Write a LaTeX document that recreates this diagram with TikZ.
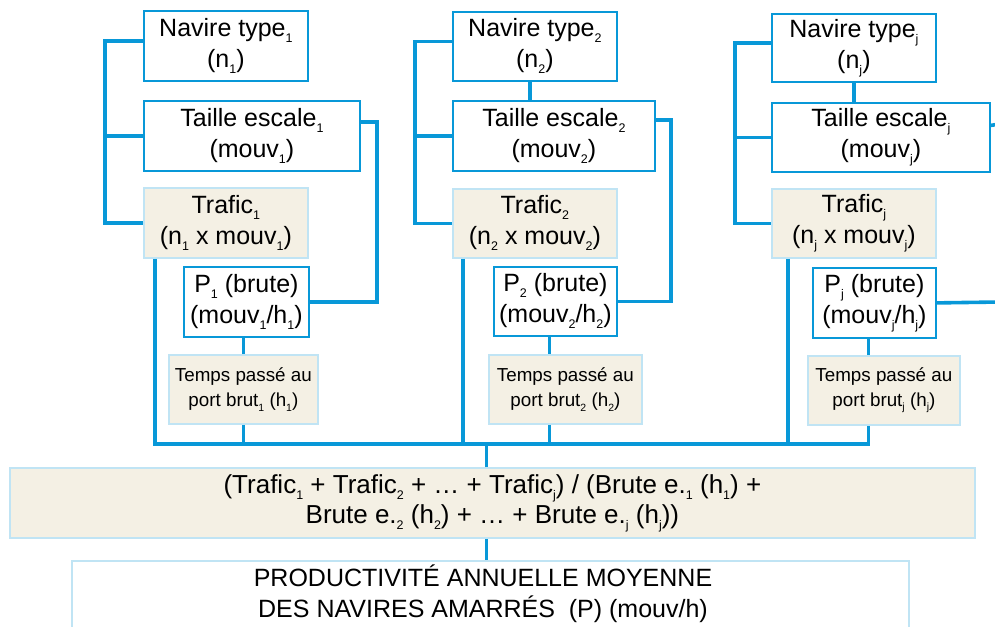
\documentclass[tikz,border=0pt]{standalone}
\usepackage{fontspec}
\setmainfont{Liberation Sans}
\usetikzlibrary{calc}
\definecolor{lblue}{RGB}{8,152,216}
\definecolor{pblue}{RGB}{192,228,244}
\definecolor{beige}{RGB}{244,240,228}
\newcommand\sbb[1]{\raisebox{-6pt}{\fontsize{12.5}{12.5}\selectfont #1}}
\newcommand\sbs[1]{\raisebox{-4.5pt}{\fontsize{10.5}{10.5}\selectfont #1}}
\begin{document}
\begin{tikzpicture}[x=1pt,y=-1pt,
  wbox/.style={draw=lblue, line width=1.8pt, fill=white, inner sep=0pt, align=center, anchor=north west, font=\fontsize{25}{31}\selectfont},
  bbox/.style={wbox, draw=pblue, fill=beige},
  tbox/.style={bbox, font=\fontsize{18.8}{25}\selectfont},
  conn/.style={draw=lblue, line width=3.6pt},
]
\useasboundingbox (0,0) rectangle (995,626);
% column 1
\node[wbox, minimum width=164, minimum height=70] (nav1) at (143,10) {Navire type\sbb{1}\\(n\sbb{1})};
\node[wbox, minimum width=216, minimum height=70] (tai1) at (143,100) {Taille escale\sbb{1}\\(mouv\sbb{1})};
\node[bbox, minimum width=164, minimum height=70] (traf1) at (143,187) {Trafic\sbb{1}\\(n\sbb{1} x mouv\sbb{1})};
\node[wbox, minimum width=125, minimum height=70] (p1) at (183,266) {P\sbb{1} (brute)\\(mouv\sbb{1}/h\sbb{1})};
\node[tbox, minimum width=149, minimum height=69] (temps1) at (168,354) {Temps passé au\\port brut\sbs{1} (h\sbs{1})};
% column 2
\node[wbox, minimum width=164, minimum height=69] (nav2) at (452,11) {Navire type\sbb{2}\\(n\sbb{2})};
\node[wbox, minimum width=202, minimum height=70] (tai2) at (452,100) {Taille escale\sbb{2}\\(mouv\sbb{2})};
\node[bbox, minimum width=164, minimum height=69] (traf2) at (452,188) {Trafic\sbb{2}\\(n\sbb{2} x mouv\sbb{2})};
\node[wbox, minimum width=123, minimum height=69] (p2) at (493,266) {P\sbb{2} (brute)\\(mouv\sbb{2}/h\sbb{2})};
\node[tbox, minimum width=153, minimum height=69] (temps2) at (488,354) {Temps passé au\\port brut\sbs{2} (h\sbs{2})};
% column j
\node[wbox, minimum width=164, minimum height=68] (navj) at (771,13) {Navire type\sbb{j}\\(n\sbb{j})};
\node[wbox, minimum width=218, minimum height=69] (taij) at (771,102) {Taille escale\sbb{j}\\(mouv\sbb{j})};
\node[bbox, minimum width=164, minimum height=69] (trafj) at (771,188) {Trafic\sbb{j}\\(n\sbb{j} x mouv\sbb{j})};
\node[wbox, minimum width=123, minimum height=70] (pj) at (812,267) {P\sbb{j} (brute)\\(mouv\sbb{j}/h\sbb{j})};
\node[tbox, minimum width=152, minimum height=69] (tempsj) at (807,355) {Temps passé au\\port brut\sbs{j} (h\sbs{j})};
% bottom
\node[bbox, minimum width=965, minimum height=70, font=\fontsize{26}{30}\selectfont] (form) at (9,467) {(Trafic\sbb{1} + Trafic\sbb{2} + … + Trafic\sbb{j}) / (Brute e.\sbb{1} (h\sbb{1}) +\\Brute e.\sbb{2} (h\sbb{2}) + … + Brute e.\sbb{j} (h\sbb{j}))};
\node[wbox, draw=pblue, minimum width=837, minimum height=100] (prod) at (71,560) {};
\node[font=\fontsize{25}{31}\selectfont, align=center, inner sep=0pt] (prodtxt) at (483,594) {PRODUCTIVITÉ ANNUELLE MOYENNE\\DES NAVIRES AMARRÉS~~(P) (mouv/h)};
\coordinate (base) at (0,444);
\coordinate (edgeA) at (1000,124);
\coordinate (edgeB) at (1000,302);
% connectors column 1
\draw[conn] ([yshift=5pt]nav1.west) -- ++(-38,0) |- (traf1.west);
\draw[conn] (tai1.west) -- ++(-38,0);
\draw[conn] ([yshift=14pt]tai1.east) -- ++(16,0) |- (p1.east);
\draw[conn] ([xshift=-3pt]p1.south) -- ([xshift=-3pt]p1.south |- temps1.north);
\draw[conn] ([xshift=-3pt]p1.south |- temps1.south) -- ([xshift=-3pt]p1.south |- base);
% connectors column 2
\draw[conn] ([yshift=5pt]nav2.west) -- ++(-37,0) |- (traf2.west);
\draw[conn] (tai2.west) -- ++(-37,0);
\draw[conn] ([xshift=-5pt]nav2.south) -- ([xshift=-5pt]nav2.south |- tai2.north);
\draw[conn] ([yshift=16pt]tai2.east) -- ++(15,0) |- (p2.east);
\draw[conn] ([xshift=-6pt]p2.south) -- ([xshift=-6pt]p2.south |- temps2.north);
\draw[conn] ([xshift=-6pt]p2.south |- temps2.south) -- ([xshift=-6pt]p2.south |- base);
\draw[conn] ([xshift=11pt]traf2.south west) -- ([xshift=11pt]traf2.south west |- base);
% connectors column j
\draw[conn] ([yshift=5pt]navj.west) -- ++(-36,0) |- (trafj.west);
\draw[conn] (taij.west) -- ++(-36,0);
\draw[conn] (navj.south) -- (navj.south |- taij.north);
\draw[conn] ([yshift=12pt]taij.east) -- (edgeA);
\draw[conn] (pj.east) -- (edgeB);
\draw[conn] ([xshift=-6pt]pj.south) -- ([xshift=-6pt]pj.south |- tempsj.north);
\draw[conn] ([xshift=17pt]trafj.south west) -- ([xshift=17pt]trafj.south west |- base);
% baseline
\draw[conn] ([xshift=12pt]traf1.south west) |- ([xshift=-6pt]pj.south |- base) -- ([xshift=-6pt]pj.south |- tempsj.south);
% to bottom boxes
\draw[conn] ([xshift=-6pt]form.north) -- ([xshift=-6pt]form.north |- base);
\draw[conn] ([xshift=-6pt]form.south) -- ([xshift=-6pt]form.south |- prod.north);
\end{tikzpicture}
\end{document}
